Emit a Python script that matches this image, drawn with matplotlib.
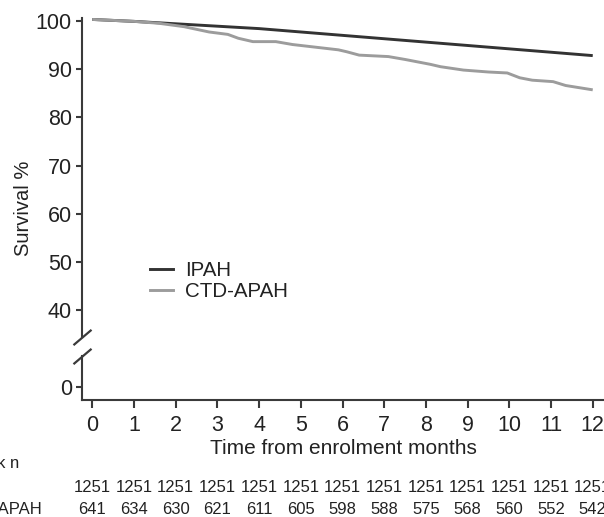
import matplotlib
matplotlib.use("Agg")
import matplotlib.pyplot as plt
from matplotlib.lines import Line2D
import matplotlib.transforms as mtransforms

plt.rcParams['font.family'] = ['Liberation Sans', 'DejaVu Sans']

# ---- data ----
ipah_t = [0, 1, 2, 3, 4, 5, 6, 7, 8, 9, 10, 11, 12]
ipah_v = [100.3, 99.9, 99.4, 98.9, 98.4, 97.7, 97.0, 96.3, 95.6, 94.9, 94.2, 93.5, 92.8]

ctd_t = [0, 1, 1.6, 2.2, 2.8, 3.25, 3.5, 3.85, 4.4, 4.8, 5.4, 5.9, 6.1, 6.4,
         7.1, 7.5, 8.1, 8.35, 8.9, 9.5, 9.95, 10.25, 10.55, 11.05, 11.35, 12]
ctd_v = [100.3, 99.9, 99.5, 98.8, 97.7, 97.2, 96.4, 95.7, 95.7, 95.1, 94.5, 94.0,
         93.6, 92.9, 92.6, 92.0, 91.0, 90.5, 89.8, 89.4, 89.2, 88.2, 87.7, 87.4,
         86.6, 85.7]

months = list(range(13))
risk_ipah = [1251] * 13
risk_ctd = [641, 634, 630, 621, 611, 605, 598, 588, 575, 568, 560, 552, 542]
group_labels = ["IPAH", "CTD-APAH"]
top_ticks = [40, 50, 60, 70, 80, 90, 100]

# ---- layout (pixels) ----
W, H = 604, 517
fig = plt.figure(figsize=(W / 100, H / 100), dpi=100)

left_px = 82.3
right_px = 604
top_top, top_bot = 18, 337
bot_top, bot_bot = 356, 400

def ax_rect(t, b):
    return [left_px / W, 1 - b / H, (right_px - left_px) / W, (b - t) / H]

ax = fig.add_axes(ax_rect(top_top, top_bot))
axb = fig.add_axes(ax_rect(bot_top, bot_bot))

dark = '#333333'
light = '#9c9c9c'
spine_c = '#3a3a3a'
txt_c = '#222222'

for a in (ax, axb):
    a.plot(ipah_t, ipah_v, color=dark, lw=2.1, solid_capstyle='butt')
    a.plot(ctd_t, ctd_v, color=light, lw=2.1, solid_capstyle='butt')
    a.set_xlim(-0.24, 12.27)
    for s in ('top', 'right'):
        a.spines[s].set_visible(False)
    a.spines['left'].set_color(spine_c)
    a.spines['left'].set_linewidth(1.5)
    a.tick_params(axis='y', colors=spine_c, labelcolor=txt_c, labelsize=15.5,
                  length=4, width=1.5, pad=3.5)

ax.set_ylim(34.44, 100.6)
ax.set_yticks(top_ticks)
ax.spines['bottom'].set_visible(False)
ax.tick_params(axis='x', bottom=False, labelbottom=False)

axb.set_ylim(-2.76, 6.37)
axb.set_yticks([0])
axb.spines['bottom'].set_color(spine_c)
axb.spines['bottom'].set_linewidth(1.5)
axb.set_xticks(months)
axb.tick_params(axis='x', colors=spine_c, labelcolor=txt_c, labelsize=15.5,
                length=6, width=1.5, pad=4.8)
axb.set_xlabel("Time from enrolment months", fontsize=15, color=txt_c, labelpad=2.5)

ax.set_ylabel("Survival %", fontsize=14.5, color=txt_c)
ax.yaxis.label.set_va('center')
ax.yaxis.set_label_coords((24 - left_px) / (right_px - left_px),
                          (top_bot - 208) / (top_bot - top_top))

# break marks
kw = dict(marker=[(-1, -0.85), (1, 0.85)], markersize=13, linestyle='none',
          color=spine_c, mec=spine_c, mew=1.6, clip_on=False)
ax.plot([0], [0], transform=ax.transAxes, **kw)
axb.plot([0], [1], transform=axb.transAxes, **kw)

# legend
handles = [Line2D([], [], color=dark, lw=2.1), Line2D([], [], color=light, lw=2.1)]
leg = ax.legend(handles, group_labels, loc='upper left', frameon=False,
                fontsize=14.8, handlelength=1.1, handletextpad=0.6,
                labelspacing=0.12, borderaxespad=0, borderpad=0,
                bbox_to_anchor=((150 - left_px) / (right_px - left_px),
                                (top_bot - 261) / (top_bot - top_top)))
for t in leg.get_texts():
    t.set_color(txt_c)

# at-risk table
def fx(px):
    return px / W

def fy(py):
    return 1 - py / H

tfs = 12
blend = mtransforms.blended_transform_factory(axb.transData, fig.transFigure)
fig.text(fx(19.5), fy(464), "At risk n", fontsize=tfs, color=txt_c, va='center', ha='right')
fig.text(fx(-4), fy(488), group_labels[0], fontsize=tfs, color=txt_c, va='center', ha='right')
fig.text(fx(42), fy(509), group_labels[1], fontsize=tfs, color=txt_c, va='center', ha='right')
for m, n1, n2 in zip(months, risk_ipah, risk_ctd):
    fig.text(m, fy(488), str(n1), transform=blend, fontsize=tfs,
             color=txt_c, ha='center', va='center')
    fig.text(m, fy(509), str(n2), transform=blend, fontsize=tfs,
             color=txt_c, ha='center', va='center')

fig.savefig("out.png", dpi=100)
